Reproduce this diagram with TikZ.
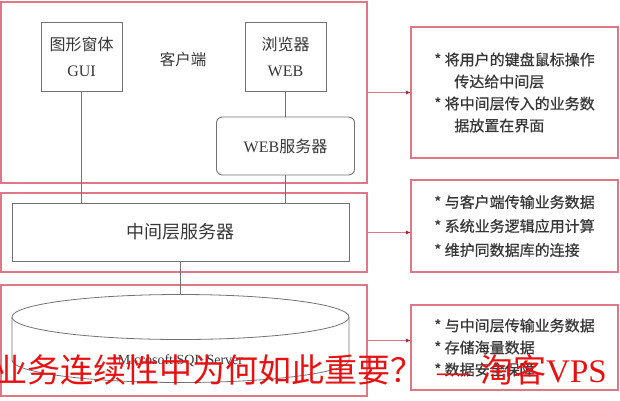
\documentclass[tikz,border=0pt]{standalone}
\usepackage{fontspec}
\setmainfont{Liberation Serif}
\newfontfamily\cjk{Noto Sans CJK SC}
\newfontfamily\cjknote[FakeBold=0.6]{Noto Sans CJK SC}
\usepackage{xcolor}
\usepackage{tikz}
\usetikzlibrary{arrows.meta}

\definecolor{tierred}{RGB}{222,120,136}
\definecolor{tipred}{RGB}{165,40,60}
\definecolor{partgray}{RGB}{115,115,115}
\definecolor{inkgray}{RGB}{55,55,55}
\definecolor{bannerred}{RGB}{232,16,16}

\begin{document}
\begin{tikzpicture}[x=1pt, y=-1pt,
    tier/.style={draw=tierred, line width=1.6pt, minimum width=366pt, inner sep=0pt, outer sep=0pt},
    part/.style={draw=partgray, line width=0.9pt, fill=white, text=inkgray, align=center, inner sep=0pt, outer sep=0pt},
    note/.style={draw=tierred, line width=1.6pt, minimum width=207pt, inner sep=0pt, outer sep=0pt, align=left, text=inkgray, font=\cjknote\fontsize{15}{22}\selectfont},
    link/.style={draw=partgray, line width=0.8pt},
    feed/.style={draw=tierred, line width=1pt, -{Latex[length=5pt,width=4pt,color=tipred]}},
    banner/.style={text=bannerred, inner sep=0pt, anchor=west, font=\fontsize{33}{33}\selectfont}]
    \useasboundingbox (0,0) rectangle (620,400);

    % three tiers on the left
    \node[tier, minimum height=181pt] (client) at (184,92.5) {};
    \node[tier, minimum height=79pt] (middle) at (184,232.5) {};
    \node[tier, minimum height=111pt] (store) at (184,340.5) {};

    % client tier
    \node[part, minimum width=81pt, minimum height=69pt, font=\fontsize{16}{26}\selectfont] (gui) at (81.5,56.5) {{\cjk 图形窗体}\\GUI};
    \node[part, minimum width=81pt, minimum height=69pt, font=\fontsize{16}{26}\selectfont] (browser) at (285.5,56.5) {{\cjk 浏览器}\\WEB};
    \node[text=inkgray, font=\cjk\fontsize{15.5}{16}\selectfont] (clientlbl) at (183,60) {客户端};
    \node[part, rounded corners=6pt, minimum width=138pt, minimum height=58pt, font=\fontsize{16}{16}\selectfont] (websrv) at (285.5,146) {WEB{\cjk 服务器}};

    % middle tier
    \node[part, minimum width=337pt, minimum height=58pt, font=\cjk\fontsize{18}{18}\selectfont] (midsrv) at (180.5,232) {中间层服务器};

    % database
    \coordinate (dbtop) at (180.5,294.5);
    \draw[link, fill=white] (12,317) -- (12,360) arc[start angle=180, end angle=0, x radius=168.5, y radius=22.5] -- (349,317);
    \draw[link, fill=white] (180.5,317) ellipse [x radius=168.5, y radius=22.5];
    \node[text=inkgray, font=\fontsize{14}{14}\selectfont] (sql) at (180.5,361) {Microsoft SQL Server};

    \draw[link] (gui.south) -- (gui.south |- midsrv.north);
    \draw[link] (browser.south) -- (browser.south |- websrv.north);
    \draw[link] (websrv.south) -- (websrv.south |- midsrv.north);
    \draw[link] (midsrv.south) -- (dbtop);

    % notes on the right
    \node[note, minimum height=131pt] (note1) at (514.5,92.5) {* 将用户的键盘鼠标操作\\\hspace*{20pt}传达给中间层\\* 将中间层传入的业务数\\\hspace*{20pt}据放置在界面};
    \node[note, minimum height=92pt, font=\cjknote\fontsize{15}{24}\selectfont] (note2) at (514.5,226) {* 与客户端传输业务数据\\* 系统业务逻辑应用计算\\* 维护同数据库的连接};
    \node[note, minimum height=85pt] (note3) at (514.5,347.5) {* 与中间层传输业务数据\\* 存储海量数据\\* 数据安全保障};

    \draw[feed] (client.east) -- (client.east -| note1.west);
    \draw[feed] (middle.east) -- (middle.east -| note2.west);
    \draw[feed] (store.east) -- (store.east -| note3.west);

    \node[banner] (stamp) at (-6,370) {{\cjk 业务连续性中为何如此重要？}\hspace{14pt}—\hspace{10pt}{\cjk 淘客}VPS};
\end{tikzpicture}
\end{document}
